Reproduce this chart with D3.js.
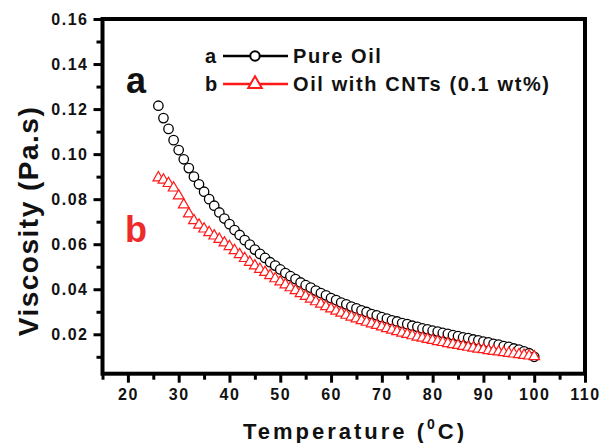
<!DOCTYPE html>
<html>
<head>
<meta charset="utf-8">
<script src="https://cdn.jsdelivr.net/npm/d3@7/dist/d3.min.js"></script>
<style>
  body { margin: 0; background: #fff; }
  svg text { font-family: Arial, "Liberation Sans", sans-serif; font-weight: bold; }
</style>
</head>
<body>
<svg width="601" height="443"></svg>
<script>
const width = 601;
const height = 443;

// temperature (C) of each measured point
const temps = [26, 27, 28, 29, 30, 31, 32, 33, 34, 35, 36, 37, 38, 39, 40,
    41, 42, 43, 44, 45, 46, 47, 48, 49, 50, 51, 52, 53, 54, 55,
    56, 57, 58, 59, 60, 61, 62, 63, 64, 65, 66, 67, 68, 69, 70,
    71, 72, 73, 74, 75, 76, 77, 78, 79, 80, 81, 82, 83, 84, 85,
    86, 87, 88, 89, 90, 91, 92, 93, 94, 95, 96, 97, 98, 99, 100];

// a: pure oil viscosity (Pa.s)
const pureOil = [0.1215, 0.1160, 0.1112, 0.1062, 0.1018, 0.0977, 0.0938, 0.0900, 0.0866, 0.0833,
    0.0800, 0.0771, 0.0741, 0.0714, 0.0689, 0.0663, 0.0641, 0.0618, 0.0598, 0.0576,
    0.0557, 0.0539, 0.0520, 0.0505, 0.0488, 0.0472, 0.0458, 0.0445, 0.0430, 0.0418,
    0.0407, 0.0394, 0.0383, 0.0373, 0.0361, 0.0352, 0.0341, 0.0333, 0.0323, 0.0315,
    0.0306, 0.0299, 0.0290, 0.0284, 0.0276, 0.0270, 0.0262, 0.0257, 0.0250, 0.0245,
    0.0238, 0.0233, 0.0226, 0.0222, 0.0216, 0.0212, 0.0206, 0.0202, 0.0196, 0.0192,
    0.0186, 0.0183, 0.0177, 0.0173, 0.0168, 0.0164, 0.0158, 0.0154, 0.0148, 0.0144,
    0.0137, 0.0132, 0.0124, 0.0116, 0.0100];

// b: oil with CNTs (0.1 wt%)
const cntOil = [0.0895, 0.0885, 0.0870, 0.0850, 0.0815, 0.0775, 0.0735, 0.0705, 0.0685, 0.0668,
    0.0652, 0.0637, 0.0622, 0.0606, 0.0590, 0.0572, 0.0554, 0.0537, 0.0520, 0.0504,
    0.0489, 0.0475, 0.0461, 0.0447, 0.0433, 0.0420, 0.0407, 0.0394, 0.0381, 0.0369,
    0.0357, 0.0345, 0.0334, 0.0323, 0.0313, 0.0303, 0.0294, 0.0285, 0.0277, 0.0269,
    0.0261, 0.0254, 0.0247, 0.0240, 0.0233, 0.0226, 0.0219, 0.0212, 0.0206, 0.0200,
    0.0194, 0.0188, 0.0183, 0.0178, 0.0173, 0.0168, 0.0164, 0.0159, 0.0155, 0.0151,
    0.0147, 0.0143, 0.0139, 0.0135, 0.0132, 0.0128, 0.0125, 0.0122, 0.0119, 0.0116,
    0.0113, 0.0110, 0.0107, 0.0104, 0.0101];

const xTicks = [20, 30, 40, 50, 60, 70, 80, 90, 100, 110];
const xMinor = [15, 25, 35, 45, 55, 65, 75, 85, 95, 105];
const yTicks = [0.02, 0.04, 0.06, 0.08, 0.10, 0.12, 0.14, 0.16];
const yMinor = [0.01, 0.03, 0.05, 0.07, 0.09, 0.11, 0.13, 0.15];

const red = "#ff1a1a";

const svg = d3.select("svg");

//--------------------scales--------------------
const x = d3.scaleLinear().domain([15, 110]).range([102.5, 585]);
const y = d3.scaleLinear().domain([0.0025, 0.16]).range([373.7, 19]);

//--------------------axes--------------------
function styleAxis(g) {
    g.select(".domain").remove();
    g.selectAll("line").attr("stroke", "#000").attr("stroke-width", 3);
    g.selectAll("text").attr("fill", "#111").style("font-size", "16px").style("letter-spacing", "1.5px");
}

svg.append("g")
    .attr("transform", "translate(0," + y.range()[0] + ")")
    .call(d3.axisBottom(x).tickValues(xTicks).tickSize(9).tickPadding(6))
    .call(styleAxis);

svg.append("g")
    .attr("transform", "translate(0," + y.range()[0] + ")")
    .call(d3.axisBottom(x).tickValues(xMinor).tickSize(6).tickFormat(""))
    .call(styleAxis);

svg.append("g")
    .attr("transform", "translate(" + x.range()[0] + ",0)")
    .call(d3.axisLeft(y).tickValues(yTicks).tickSize(9).tickPadding(5).tickFormat(d3.format(".2f")))
    .call(styleAxis);

svg.append("g")
    .attr("transform", "translate(" + x.range()[0] + ",0)")
    .call(d3.axisLeft(y).tickValues(yMinor).tickSize(6).tickFormat(""))
    .call(styleAxis);

//frame
svg.append("rect")
    .attr("x", x.range()[0])
    .attr("y", y.range()[1])
    .attr("width", x.range()[1] - x.range()[0])
    .attr("height", y.range()[0] - y.range()[1])
    .attr("fill", "none")
    .attr("stroke", "#000")
    .attr("stroke-width", 4);

//--------------------data--------------------
const circle = d3.symbol().type(d3.symbolCircle).size(70);
const triangle = d3.symbol().type(d3.symbolTriangle).size(50);

svg.append("g")
    .selectAll("path")
    .data(temps)
    .enter()
    .append("path")
    .attr("d", circle)
    .attr("transform", (d, i) => "translate(" + x(d) + "," + y(pureOil[i]) + ")")
    .attr("fill", "#fff")
    .attr("stroke", "#000")
    .attr("stroke-width", 1.3);

svg.append("g")
    .selectAll("path")
    .data(temps)
    .enter()
    .append("path")
    .attr("d", triangle)
    .attr("transform", (d, i) => "translate(" + x(d) + "," + y(cntOil[i]) + ")")
    .attr("fill", "#fff")
    .attr("stroke", red)
    .attr("stroke-width", 1.2);

//--------------------labels--------------------
svg.append("text")
    .attr("x", 126).attr("y", 93)
    .style("font-size", "36px")
    .attr("fill", "#111")
    .text("a");

svg.append("text")
    .attr("x", 125).attr("y", 242)
    .style("font-size", "36px")
    .attr("fill", "#ee2b2b")
    .text("b");

//legend
const legend = svg.append("g");
const rows = [
    { key: "a", name: "Pure Oil", color: "#000", sym: d3.symbol().type(d3.symbolCircle).size(70) },
    { key: "b", name: "Oil with CNTs (0.1 wt%)", color: red, sym: d3.symbol().type(d3.symbolTriangle).size(80) }
];
rows.forEach((r, i) => {
    const ly = 56 + i * 28;
    legend.append("text")
        .attr("x", 205).attr("y", ly + 7)
        .style("font-size", "20px")
        .attr("fill", "#111")
        .text(r.key);
    legend.append("line")
        .attr("x1", 223).attr("x2", 288)
        .attr("y1", ly).attr("y2", ly)
        .attr("stroke", r.color)
        .attr("stroke-width", 2.5);
    legend.append("path")
        .attr("d", r.sym)
        .attr("transform", "translate(255," + ly + ")")
        .attr("fill", "#fff")
        .attr("stroke", r.color)
        .attr("stroke-width", 2);
    legend.append("text")
        .attr("x", 293).attr("y", ly + 7)
        .style("font-size", "20px")
        .style("letter-spacing", "1.6px")
        .attr("fill", "#111")
        .text(r.name);
});

//axis titles
const xTitle = svg.append("text")
    .attr("x", 355).attr("y", 439)
    .attr("text-anchor", "middle")
    .style("font-size", "22px")
    .style("letter-spacing", "3px")
    .attr("fill", "#111");
xTitle.append("tspan").text("Temperature (");
xTitle.append("tspan").attr("dy", -10).style("font-size", "14px").text("0");
xTitle.append("tspan").attr("dy", 10).text("C)");

svg.append("text")
    .attr("transform", "translate(38,221) rotate(-90)")
    .attr("text-anchor", "middle")
    .style("font-size", "28px")
    .style("letter-spacing", "1.5px")
    .attr("fill", "#111")
    .text("Viscosity (Pa.s)");
</script>
</body>
</html>
